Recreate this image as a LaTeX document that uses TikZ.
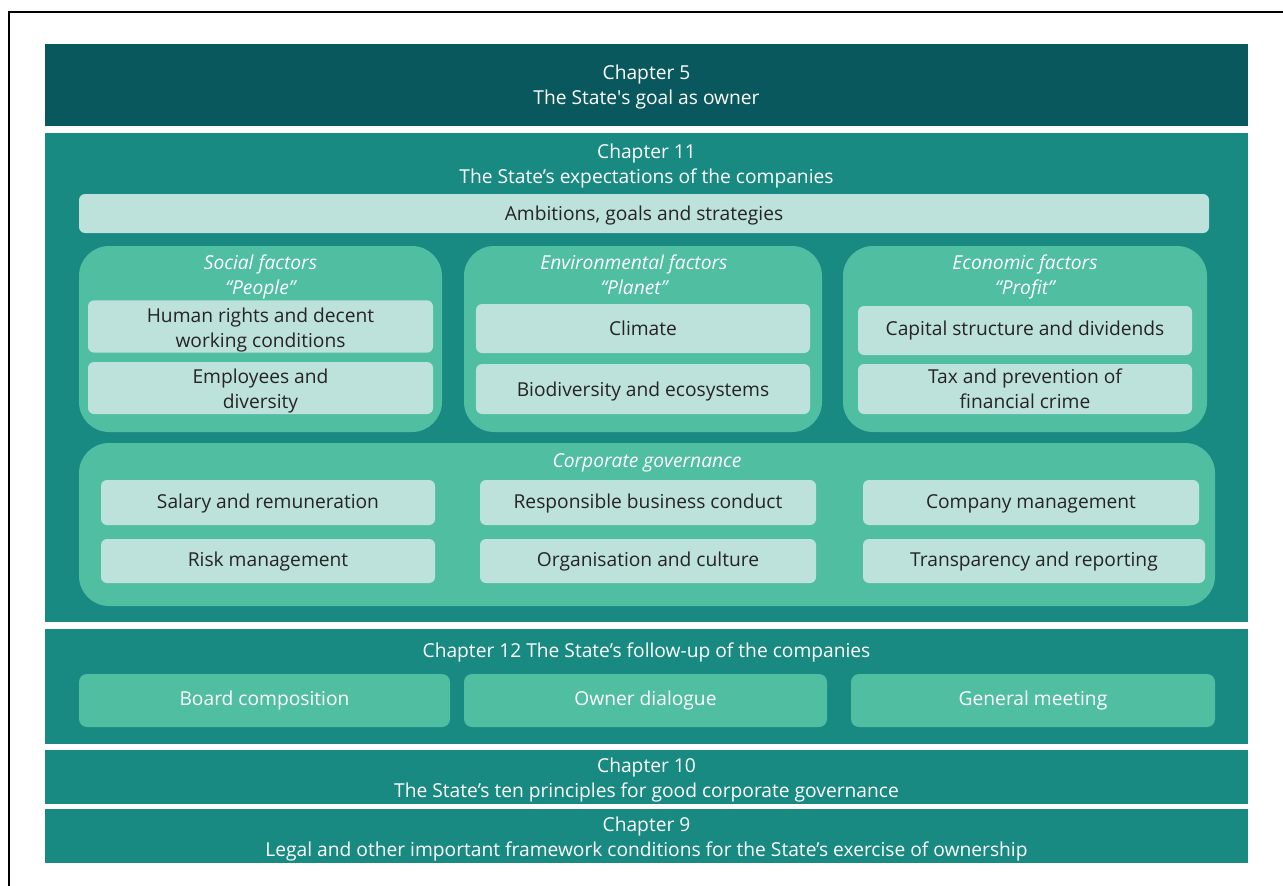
\documentclass[tikz,border=0pt]{standalone}
\usepackage{fontspec}
\setmainfont{Open Sans}
\usepackage{tikz}

\definecolor{deepteal}{HTML}{09585E}
\definecolor{midteal}{HTML}{198A82}
\definecolor{leafgreen}{HTML}{50BEA1}
\definecolor{paleteal}{HTML}{BDE2DB}
\definecolor{inkdark}{HTML}{262324}

% taller first line pushes the text a little lower in its box
\newcommand{\lift}[1]{\rule{0pt}{#1}}

\begin{document}
\begin{tikzpicture}[x=1pt, y=-1pt,
    every node/.style={font=\fontsize{19.2}{25}\selectfont, inner sep=0pt, align=center},
    band/.style={fill=midteal, text=white, minimum width=1203pt},
    pillar/.style={fill=leafgreen, rounded corners=30pt},
    item/.style={fill=paleteal, text=inkdark, rounded corners=6pt},
    tool/.style={fill=leafgreen, text=white, rounded corners=8pt, minimum width=364pt, minimum height=53pt},
    heading/.style={text=white, font=\fontsize{19.2}{25}\selectfont\itshape}]
    \useasboundingbox (0,0) rectangle (1283,886);

    % outer frame (top and left edge only)
    \draw[line width=1.4pt] (9,886) -- (9,12) -- (1283,12);

    % chapter bands
    \node[band, fill=deepteal, minimum height=82pt] (ch5) at (646.5,85) {\lift{18.6pt}Chapter 5\\The State\textquotesingle s goal as owner};
    \node[band, minimum height=489pt] (ch11) at (646.5,377.5) {};
    \node[band, minimum height=115pt] (ch12) at (646.5,686.5) {};
    \node[band, minimum height=54pt] (ch10) at (646.5,777) {\lift{19.6pt}Chapter 10\\The State’s ten principles for good corporate governance};
    \node[band, minimum height=54pt] (ch9) at (646.5,836) {\lift{20.6pt}Chapter 9\\Legal and other important framework conditions for the State’s exercise of ownership};

    % chapter 11
    \node[text=white] (ch11title) at (646.5,166.5) {Chapter 11\\The State’s expectations of the companies};
    \node[item, minimum width=1130pt, minimum height=39pt] (ambitions) at (644,213.5) {\lift{18.6pt}Ambitions, goals and strategies};

    \node[pillar, minimum width=363pt, minimum height=186pt] (social) at (260.5,339) {};
    \node[pillar, minimum width=358pt, minimum height=186pt] (environment) at (643,339) {};
    \node[pillar, minimum width=364pt, minimum height=186pt] (economic) at (1025,339) {};

    \node[heading] (socialtitle) at (260.5,277) {Social factors\\“People”};
    \node[heading] (envtitle) at (634,275) {Environmental factors\\“Planet”};
    \node[heading] (econtitle) at (1025,277) {Economic factors\\“Profit”};

    \node[item, minimum width=345pt, minimum height=49pt] (rights) at (260.5,326.5) {\lift{22.6pt}Human rights and decent\\working conditions};
    \node[item, minimum width=345pt, minimum height=52pt] (employees) at (260.5,388) {\lift{20.6pt}Employees and\\diversity};
    \node[item, minimum width=334pt, minimum height=49pt] (climate) at (643,328.5) {Climate};
    \node[item, minimum width=334pt, minimum height=50pt] (biodiversity) at (643,389) {\lift{20.6pt}Biodiversity and ecosystems};
    \node[item, minimum width=334pt, minimum height=49pt] (capital) at (1025,330.5) {Capital structure and dividends};
    \node[item, minimum width=334pt, minimum height=50pt] (tax) at (1025,389) {Tax and prevention of\\financial crime};

    % corporate governance
    \node[pillar, minimum width=1136pt, minimum height=163pt] (governance) at (647,524.5) {};
    \node[heading] (govtitle) at (647,463) {Corporate governance};
    \node[item, minimum width=334pt, minimum height=45pt] (salary) at (268,502.5) {\lift{16.6pt}Salary and remuneration};
    \node[item, minimum width=334pt, minimum height=44pt] (risk) at (268,561) {\lift{16.6pt}Risk management};
    \node[item, minimum width=336pt, minimum height=45pt] (conduct) at (648,502.5) {\lift{16.6pt}Responsible business conduct};
    \node[item, minimum width=336pt, minimum height=44pt] (culture) at (648,561) {\lift{16.6pt}Organisation and culture};
    \node[item, minimum width=336pt, minimum height=45pt] (management) at (1031,502.5) {\lift{16.6pt}Company management};
    \node[item, minimum width=342pt, minimum height=44pt] (reporting) at (1034,561) {\lift{16.6pt}Transparency and reporting};

    % chapter 12
    \node[text=white] (ch12title) at (646.5,652) {Chapter 12 The State’s follow-up of the companies};
    \node[tool, minimum width=371pt] (board) at (264.5,700.5) {Board composition};
    \node[tool, minimum width=363pt] (dialogue) at (645.5,700.5) {Owner dialogue};
    \node[tool] (meeting) at (1033,700.5) {General meeting};
\end{tikzpicture}
\end{document}
